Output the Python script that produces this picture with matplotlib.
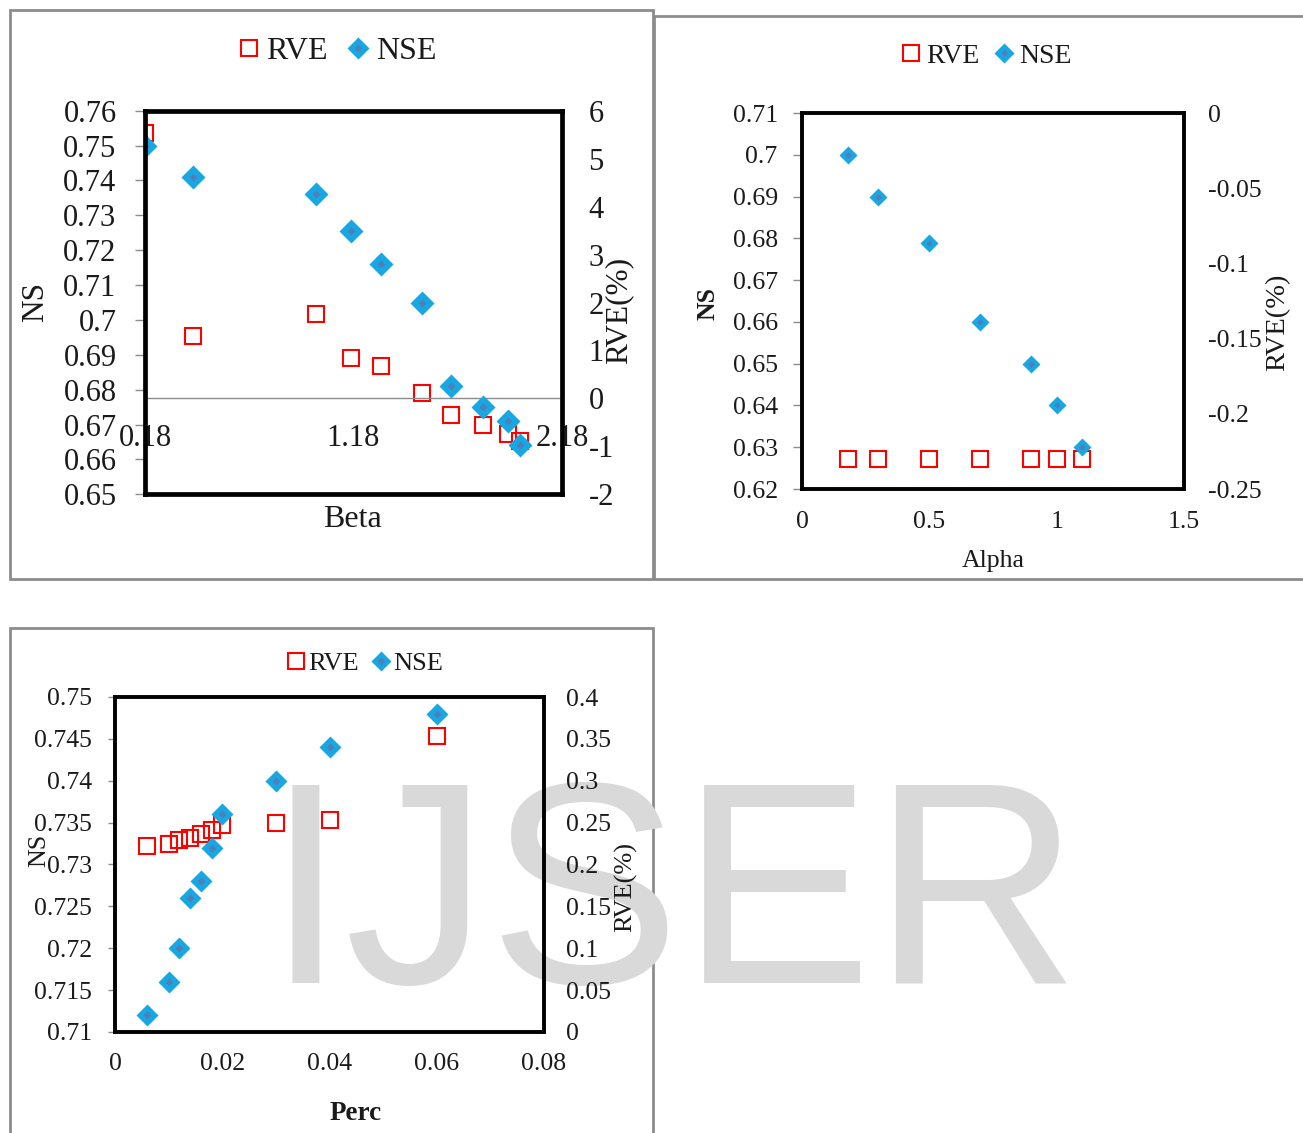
'''
  - Sensitivity of NS and RVE(%) to the Beta, Alpha and Perc parameters.
'''

import matplotlib
matplotlib.use('Agg')
from matplotlib import pyplot as plt
from matplotlib.patches import Rectangle
from matplotlib.lines import Line2D
from matplotlib.ticker import FuncFormatter
import numpy as np

W, H = 1303, 1133

plt.rcParams['font.family'] = ['Liberation Serif', 'DejaVu Serif']
plt.rcParams['axes.unicode_minus'] = False

RED = '#FF0000'
BLUE = '#17A8E3'
BLUE_CORE = '#5A78B2'
FRAME = '#8C8C8C'
TXT = '#1A1A1A'

# Beta run
beta = [0.18, 0.41, 1.0, 1.17, 1.31, 1.51, 1.65, 1.8, 1.92, 1.98]
beta_nse = [0.750, 0.741, 0.736, 0.7255, 0.716, 0.705, 0.681, 0.675, 0.671, 0.664]
beta_rve = [5.54, 1.30, 1.76, 0.84, 0.67, 0.11, -0.35, -0.56, -0.74, -0.89]

# Alpha run
alpha = [0.18, 0.3, 0.5, 0.7, 0.9, 1.0, 1.1]
alpha_nse = [0.700, 0.690, 0.679, 0.660, 0.650, 0.640, 0.630]
alpha_rve = [-0.23, -0.23, -0.23, -0.23, -0.23, -0.23, -0.23]

# Perc run
perc = [0.006, 0.010, 0.012, 0.014, 0.016, 0.018, 0.020, 0.030, 0.040, 0.060]
perc_nse = [0.712, 0.716, 0.720, 0.726, 0.728, 0.732, 0.736, 0.740, 0.744, 0.748]
perc_rve = [0.222, 0.225, 0.229, 0.232, 0.237, 0.241, 0.247, 0.250, 0.253, 0.353]

fmt = FuncFormatter(lambda v, p: '%g' % round(v, 6))


def fig_box(b):
  l, t, r, bt = b
  return [l / W, 1 - bt / H, (r - l) / W, (bt - t) / H]


def to_axes(b, px, py):
  l, t, r, bt = b
  return (px - l) / (r - l), (bt - py) / (bt - t)


def make_panel(fig, b, frame_lw):
  ax = fig.add_axes(fig_box(b))
  ax.set_facecolor('none')
  ax2 = ax.twinx()
  ax.set_zorder(ax2.get_zorder() + 1)
  for s in ax.spines.values():
    s.set_linewidth(frame_lw)
    s.set_color('black')
  for s in ax2.spines.values():
    s.set_visible(False)
  ax.yaxis.set_major_formatter(fmt)
  ax2.yaxis.set_major_formatter(fmt)
  ax.xaxis.set_major_formatter(fmt)
  return ax, ax2


def draw_series(ax, ax2, x, nse, rve, sq, dm):
  ax2.plot(x, rve, ls='none', marker='s', ms=sq, mfc='none', mec=RED, mew=1.5)
  ax.plot(x, nse, ls='none', marker='D', ms=dm, mfc=BLUE, mec='none')
  ax.plot(x, nse, ls='none', marker='D', ms=dm * 0.35, mfc=BLUE_CORE, mec='none', alpha=0.85)


def add_legend(ax, fig, cx, cy, fs, sq, dm, pad, colsp):
  h_rve = Line2D([], [], ls='none', marker='s', ms=sq, mfc='none', mec=RED, mew=1.5)
  h_out = Line2D([], [], ls='none', marker='D', ms=dm, mfc=BLUE, mec='none')
  h_in = Line2D([], [], ls='none', marker='D', ms=dm * 0.35, mfc=BLUE_CORE, mec='none', alpha=0.85)
  ax.legend([h_rve, (h_out, h_in)], ['RVE', 'NSE'], loc='center',
            bbox_to_anchor=(cx / W, 1 - cy / H), bbox_transform=fig.transFigure,
            ncol=2, frameon=False, fontsize=fs, handlelength=0.8,
            handletextpad=pad, columnspacing=colsp, borderpad=0, borderaxespad=0,
            labelcolor=TXT)


def set_labels(ax, ax2, b, fs_y, fs_x, ny, ry, xl, ns_bold=False, x_bold=False, rfs=None):
  ax.set_ylabel('NS', fontsize=fs_y, color=TXT, ha='center', va='center',
                fontweight='bold' if ns_bold else 'normal')
  ax.yaxis.set_label_coords(*to_axes(b, *ny))
  ax2.set_ylabel('RVE(%)', fontsize=rfs or fs_y, color=TXT, ha='center', va='center')
  ax2.yaxis.set_label_coords(*to_axes(b, *ry))
  ax.set_xlabel(xl[0], fontsize=fs_x, color=TXT, ha='center', va='center',
                fontweight='bold' if x_bold else 'normal')
  ax.xaxis.set_label_coords(*to_axes(b, xl[1], xl[2]))


fig = plt.figure(figsize=(W / 100, H / 100), dpi=100)

# panel borders
for (l, t, r, bt) in [(10, 10, 653, 579), (654, 16, 1320, 579), (10, 628, 653, 1150)]:
  fig.patches.append(Rectangle((l / W, 1 - bt / H), (r - l) / W, (bt - t) / H,
                               transform=fig.transFigure, fill=False,
                               edgecolor=FRAME, lw=2, zorder=-2))

fig.text(265 / W, 1 - 983 / H, 'IJSER', fontsize=207, color='#D9D9D9',
         family='Liberation Sans', ha='left', va='baseline', zorder=-1)

# ---- Beta
b1 = (145, 110.7, 562, 494.3)
ax, ax2 = make_panel(fig, b1, 3.4)
draw_series(ax, ax2, beta, beta_nse, beta_rve, 11, 12)
ax.set_xlim(0.18, 2.18)
ax.set_ylim(0.65, 0.76)
ax2.set_ylim(-2, 6)
ax.set_yticks(np.linspace(0.65, 0.76, 12))
ax2.set_yticks(np.arange(-2, 7, 1))
ax.tick_params(axis='x', bottom=False, labelbottom=False)
ax.tick_params(axis='y', direction='out', length=7, width=1, color=FRAME,
               pad=13.5, labelsize=22, labelcolor=TXT)
ax2.tick_params(axis='y', length=0, pad=19, labelsize=22, labelcolor=TXT)
# horizontal axis sits at RVE = 0
ax2.xaxis.set_visible(True)
ax2.spines['bottom'].set_visible(True)
ax2.spines['bottom'].set_position(('data', 0))
ax2.spines['bottom'].set_color(FRAME)
ax2.spines['bottom'].set_linewidth(1)
ax2.set_xticks([0.18, 1.18, 2.18])
ax2.xaxis.set_major_formatter(fmt)
ax2.tick_params(axis='x', length=0, pad=18.5, labelsize=22, labelcolor=TXT)
set_labels(ax, ax2, b1, 22.5, 23, (36, 302), (619, 310), ('Beta', 352, 520))
add_legend(ax, fig, 336, 51, 23, 11, 11.5, 0.15, 0.55)

# ---- Alpha
b2 = (802, 113, 1184, 489)
ax, ax2 = make_panel(fig, b2, 2.8)
draw_series(ax, ax2, alpha, alpha_nse, alpha_rve, 11.5, 9.6)
ax.set_xlim(0, 1.5)
ax.set_ylim(0.62, 0.71)
ax2.set_ylim(-0.25, 0)
ax.set_xticks([0, 0.5, 1, 1.5])
ax.set_yticks(np.linspace(0.62, 0.71, 10))
ax2.set_yticks(np.linspace(-0.25, 0, 6))
ax.tick_params(axis='x', length=0, pad=15.5, labelsize=18.5, labelcolor=TXT)
ax.tick_params(axis='y', direction='out', length=6.5, width=1, color=FRAME,
               pad=11, labelsize=18.5, labelcolor=TXT)
ax2.tick_params(axis='y', length=0, pad=17, labelsize=18.5, labelcolor=TXT)
set_labels(ax, ax2, b2, 18.5, 18.5, (708, 303), (1278, 322), ('Alpha', 993, 561),
           ns_bold=True, rfs=20.5)
add_legend(ax, fig, 986, 56, 20, 11.5, 10, 0.14, 0.5)

# ---- Perc
b3 = (115, 697, 544, 1032)
ax, ax2 = make_panel(fig, b3, 2.8)
draw_series(ax, ax2, perc, perc_nse, perc_rve, 11.3, 11)
ax.set_xlim(0, 0.08)
ax.set_ylim(0.71, 0.75)
ax2.set_ylim(0, 0.4)
ax.set_xticks(np.linspace(0, 0.08, 5))
ax.set_yticks(np.linspace(0.71, 0.75, 9))
ax2.set_yticks(np.linspace(0, 0.4, 9))
ax.tick_params(axis='x', length=0, pad=15, labelsize=18.5, labelcolor=TXT)
ax.tick_params(axis='y', direction='out', length=5, width=1, color=FRAME,
               pad=11.5, labelsize=18.5, labelcolor=TXT)
ax2.tick_params(axis='y', length=0, pad=16, labelsize=18.5, labelcolor=TXT)
set_labels(ax, ax2, b3, 18.7, 19.5, (39, 850), (626, 887), ('Perc', 356, 1113),
           x_bold=True, rfs=19)
add_legend(ax, fig, 364, 663, 19, 11, 10.5, 0.06, 0.44)

plt.savefig('out.png', dpi=100)
